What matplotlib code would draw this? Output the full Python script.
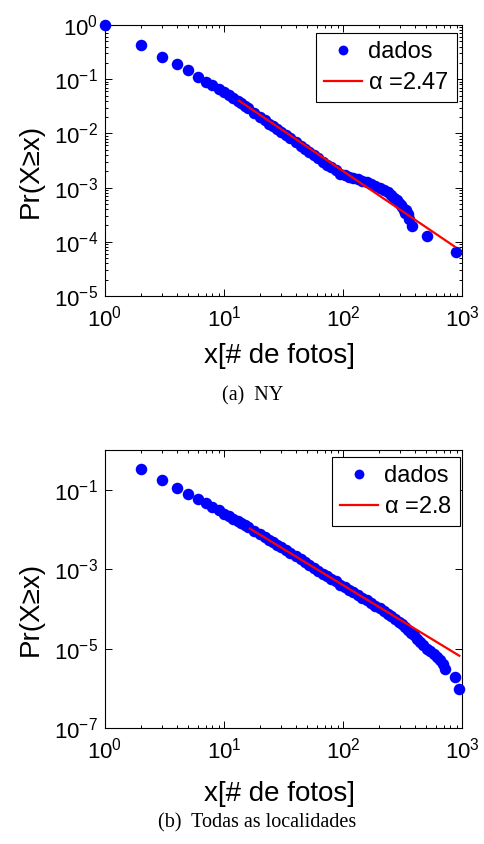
import numpy as np
import matplotlib
matplotlib.use("Agg")
import matplotlib.pyplot as plt
from matplotlib.ticker import LogLocator, NullLocator, NullFormatter

plt.rcParams['font.family'] = ['Liberation Sans', 'DejaVu Sans']
plt.rcParams['mathtext.fontset'] = 'custom'
plt.rcParams['mathtext.rm'] = 'Liberation Sans'
plt.rcParams['mathtext.it'] = 'Liberation Sans:italic'
plt.rcParams['mathtext.default'] = 'regular'

# (a) NY - CCDF
ny_x = [1, 2, 3, 4, 5, 6, 7, 8, 9, 10, 11, 12, 13, 14, 15, 16, 18, 20, 22, 24,
        26, 28, 30, 33, 36, 40, 44, 48, 52, 57, 62, 68, 74, 80, 87, 95, 103,
        112, 122, 133, 145, 158, 172, 187, 203, 220, 238, 255, 270, 283, 295,
        305, 315, 325, 335, 340, 350, 360, 378, 505, 884]
ny_pr = [1.0, 0.43, 0.26, 0.19, 0.145, 0.112, 0.090, 0.077, 0.066, 0.058,
         0.051, 0.045, 0.040, 0.036, 0.032, 0.029, 0.024, 0.0205, 0.0175,
         0.0152, 0.0135, 0.0120, 0.0108, 0.0093, 0.0081, 0.0068, 0.0059,
         0.0052, 0.0046, 0.0040, 0.0035, 0.0030, 0.0026, 0.0024, 0.0021,
         0.0018, 0.00168, 0.00160, 0.00150, 0.00142, 0.00135, 0.00127,
         0.00118, 0.00108, 0.00099, 0.00090, 0.00083, 0.00072, 0.00064,
         0.00058, 0.00052, 0.00047, 0.00043, 0.00039, 0.00034, 0.00039,
         0.000325, 0.00026, 0.000195, 0.00013, 0.000065]
ny_fit_x = [13.4, 872]
ny_fit_pr = [0.040, 8.1e-5]
ny_alpha = "2.47"

# (b) Todas as localidades
all_x = [2, 3, 4, 5, 6, 7, 8, 9, 10, 11, 12, 13, 14, 15, 16, 18, 20, 22, 24,
         26, 28, 30, 33, 36, 40, 44, 48, 52, 57, 62, 68, 74, 80, 87, 95, 103,
         112, 122, 133, 145, 158, 172, 187, 203, 220, 238, 255, 275, 295, 315,
         335, 355, 375, 395, 416, 440, 470, 505, 540, 580, 613, 650, 690, 719,
         873, 949]
all_pr = [0.33, 0.18, 0.11, 0.079, 0.057, 0.046, 0.036, 0.030, 0.025, 0.0215,
          0.0185, 0.016, 0.0142, 0.0126, 0.0112, 0.0091, 0.0075, 0.0063,
          0.0054, 0.0047, 0.0041, 0.0036, 0.0030, 0.0025, 0.0021, 0.00175,
          0.00148, 0.00127, 0.00107, 0.00091, 0.00077, 0.00066, 0.00057,
          0.00049, 0.00041, 0.00035, 0.00030, 0.00026, 0.00022, 0.00019,
          0.000163, 0.000140, 0.000121, 0.000104, 0.000089, 0.000076,
          0.000066, 0.000056, 0.000048, 0.000041, 0.000035, 0.000030,
          0.000025, 0.0000215, 0.0000175, 0.000015, 0.0000125, 0.0000095,
          0.0000085, 0.0000075, 0.0000063, 0.0000052, 0.0000041, 0.0000030,
          0.0000019, 0.00000095]
all_fit_x = [16.5, 949]
all_fit_pr = [0.0105, 6.6e-6]
all_alpha = "2.8"

W, H = 485, 844
fig = plt.figure(figsize=(W / 100, H / 100), dpi=100)


def px_axes(left, top, right, bottom):
    return fig.add_axes([left / W, 1 - bottom / H, (right - left) / W, (bottom - top) / H])


def draw_panel(ax, x, pr, fx, fpr, alpha, ylim, yticks, minor_y, leg_anchor,
               ylab_y, xlab_y):
    ax.loglog(x, pr, 'o', color='blue', markersize=8.3, markeredgewidth=0,
              label='dados', clip_on=False, zorder=3)
    ax.loglog(fx, fpr, '-', color='red', linewidth=1.6,
              label=r'$\alpha$ =' + alpha, zorder=4)
    ax.set_xlim(1, 1000)
    ax.set_ylim(*ylim)
    ax.set_xticks([1, 10, 100, 1000])
    ax.xaxis.set_minor_locator(LogLocator(base=10, subs=np.arange(2, 10)))
    ax.xaxis.set_minor_formatter(NullFormatter())
    ax.set_yticks(yticks)
    if minor_y:
        ax.yaxis.set_minor_locator(LogLocator(base=10, subs=np.arange(2, 10)))
    else:
        ax.yaxis.set_minor_locator(NullLocator())
    ax.yaxis.set_minor_formatter(NullFormatter())
    ax.tick_params(which='both', direction='in', top=True, right=True,
                   labelsize=16, width=0.7)
    ax.tick_params(which='major', length=5)
    ax.tick_params(which='minor', length=2.5)
    ax.tick_params(axis='x', pad=7)
    ax.tick_params(axis='y', pad=5)
    for s in ax.spines.values():
        s.set_linewidth(0.8)
    ax.set_xlabel('x[# de fotos]', fontsize=20, va='center')
    ax.set_ylabel('Pr(X≥x)', fontsize=20, va='center')
    ax.yaxis.set_label_coords(-74 / 357, ylab_y)
    ax.xaxis.set_label_coords(0.49, xlab_y)
    leg = ax.legend(loc='upper right', bbox_to_anchor=leg_anchor,
                    borderaxespad=0, fontsize=17, fancybox=False,
                    edgecolor='black', framealpha=1, handlelength=1.6,
                    handletextpad=0.25, borderpad=0.35, labelspacing=0.38,
                    numpoints=1, markerscale=0.85)
    leg.get_frame().set_linewidth(0.8)


ax1 = px_axes(105, 25, 462, 296)
draw_panel(ax1, ny_x, ny_pr, ny_fit_x, ny_fit_pr, ny_alpha,
           (1e-5, 1), [1e-5, 1e-4, 1e-3, 1e-2, 1e-1, 1], True, (0.985, 0.972),
           0.46, -60 / 271)

ax2 = px_axes(105, 450, 462, 728)
draw_panel(ax2, all_x, all_pr, all_fit_x, all_fit_pr, all_alpha,
           (1e-7, 1), [1e-7, 1e-5, 1e-3, 1e-1], False, (0.994, 0.975),
           0.43, -66 / 278)

fig.text(253 / W, 1 - 396 / H, '(a)  NY', ha='center', va='center',
         fontsize=14.5, family='Liberation Serif')
fig.text(257 / W, 1 - 823 / H, '(b)  Todas as localidades', ha='center',
         va='center', fontsize=14.5, family='Liberation Serif')

fig.savefig('out.png', dpi=100)
